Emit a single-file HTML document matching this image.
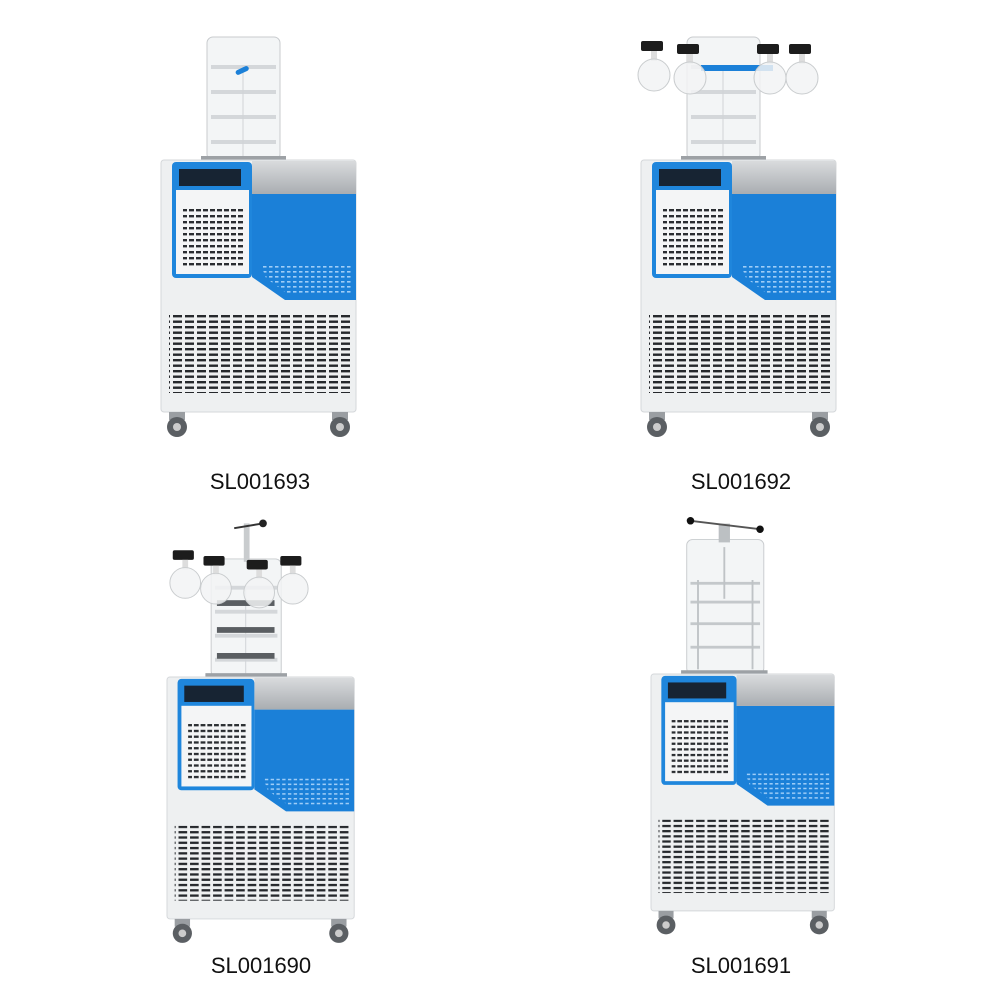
<!DOCTYPE html>
<html><head><meta charset="utf-8"><style>
html,body{margin:0;padding:0;background:#fff;width:1000px;height:1000px;overflow:hidden}
svg{display:block}
text{font-family:"Liberation Sans",Arial,sans-serif;font-size:22px;fill:#111;text-anchor:middle}
</style></head><body>
<svg width="1000" height="1000" viewBox="0 0 1000 1000" xmlns="http://www.w3.org/2000/svg">
<defs>
<pattern id="v1" width="7" height="6" patternUnits="userSpaceOnUse"><rect x="0" y="1" width="5" height="2.4" fill="#2a2d31"/></pattern>
<pattern id="v2" width="12" height="5.5" patternUnits="userSpaceOnUse"><rect x="0" y="1" width="9" height="2.4" fill="#25282c"/></pattern>
<pattern id="v3" width="6" height="5" patternUnits="userSpaceOnUse"><rect x="0" y="1" width="3.5" height="1.6" fill="#bfe0ff"/></pattern>
<linearGradient id="gt" x1="0" y1="0" x2="0" y2="1"><stop offset="0" stop-color="#d9dbdd"/><stop offset="1" stop-color="#a9adb1"/></linearGradient>
<g id="body">
 <rect x="0" y="0" width="195" height="252" rx="3" fill="#eef0f1" stroke="#d4d7da"/>
 <rect x="91" y="1" width="104" height="33" fill="url(#gt)"/>
 <polygon points="91,34 195,34 195,140 124,140 91,117" fill="#1b80d8"/>
 <polygon points="100,105 190,105 190,135 128,135 105,118" fill="url(#v3)" opacity="0.8"/>
 <rect x="11" y="2" width="80" height="116" rx="4" fill="#1f86dc"/>
 <rect x="15" y="30" width="73" height="84" fill="#f4f5f6"/>
 <rect x="18" y="9" width="62" height="17" fill="#172433"/>
 <rect x="22" y="46" width="60" height="62" fill="url(#v1)"/>
 <rect x="8" y="155" width="182" height="78" fill="url(#v2)"/>
 <rect x="8" y="252" width="16" height="8" fill="#9a9ea2"/>
 <rect x="171" y="252" width="16" height="8" fill="#9a9ea2"/>
 <circle cx="16" cy="267" r="10" fill="#5b5f63"/><circle cx="16" cy="267" r="4" fill="#ccc"/>
 <circle cx="179" cy="267" r="10" fill="#5b5f63"/><circle cx="179" cy="267" r="4" fill="#ccc"/>
</g>
<g id="cyl">
 <rect x="46" y="-123" width="73" height="123" rx="6" fill="#f3f5f6" stroke="#c8cbce"/>
 <g fill="#d4d7da"><rect x="50" y="-95" width="65" height="4"/><rect x="50" y="-70" width="65" height="4"/><rect x="50" y="-45" width="65" height="4"/><rect x="50" y="-20" width="65" height="4"/></g>
 <line x1="82" y1="-95" x2="82" y2="0" stroke="#d0d3d6"/>
 <rect x="40" y="-4" width="85" height="5" fill="#9da1a5"/>
</g>
<g id="flask">
 <rect x="-12" y="-4" width="22" height="10" rx="2" fill="#1c1c1c"/>
 <rect x="-2" y="6" width="6" height="10" fill="#ddd"/>
 <circle cx="1" cy="30" r="16" fill="#f2f3f4" fill-opacity="0.85" stroke="#c9ccce"/>
</g>
</defs>

<g transform="translate(161,160)">
 <use href="#cyl"/>
 <rect x="74" y="-92" width="14" height="5" rx="2.5" fill="#1b80d8" transform="rotate(-25 81 -90)"/>
 <use href="#body"/>
</g>
<text x="260" y="489">SL001693</text>

<g transform="translate(641,160)">
 <use href="#cyl"/>
 <rect x="60" y="-95" width="72" height="6" fill="#1b80d8"/>
 <use href="#flask" transform="translate(12,-115)"/>
 <use href="#flask" transform="translate(48,-112)"/>
 <use href="#flask" transform="translate(128,-112)"/>
 <use href="#flask" transform="translate(160,-112)"/>
 <use href="#body"/>
</g>
<text x="741" y="489">SL001692</text>

<g transform="translate(167,677) scale(0.96)">
 <use href="#cyl"/>
 <rect x="80" y="-160" width="6" height="40" fill="#c9ccce"/>
 <line x1="70" y1="-155" x2="100" y2="-160" stroke="#333" stroke-width="2"/>
 <circle cx="100" cy="-160" r="4" fill="#222"/>
 <g fill="#5a5e62"><rect x="52" y="-80" width="60" height="6"/><rect x="52" y="-52" width="60" height="6"/><rect x="52" y="-25" width="60" height="6"/></g>
 <use href="#flask" transform="translate(18,-128)"/>
 <use href="#flask" transform="translate(50,-122)"/>
 <use href="#flask" transform="translate(95,-118)"/>
 <use href="#flask" transform="translate(130,-122)"/>
 <use href="#body"/>
</g>
<text x="261" y="973">SL001690</text>

<g transform="translate(651,674) scale(0.94)">
 <rect x="38" y="-143" width="82" height="143" rx="6" fill="#f3f5f6" stroke="#c8cbce"/>
 <rect x="72" y="-160" width="12" height="20" fill="#bcc0c3"/>
 <line x1="42" y1="-163" x2="116" y2="-154" stroke="#555" stroke-width="2"/>
 <circle cx="42" cy="-163" r="4" fill="#111"/><circle cx="116" cy="-154" r="4" fill="#111"/>
 <g fill="#c4c8cb"><rect x="42" y="-98" width="74" height="3"/><rect x="42" y="-78" width="74" height="3"/><rect x="42" y="-55" width="74" height="3"/><rect x="42" y="-30" width="74" height="3"/></g>
 <g stroke="#bfc3c6" stroke-width="2"><line x1="50" y1="-100" x2="50" y2="-5"/><line x1="108" y1="-100" x2="108" y2="-5"/><line x1="78" y1="-135" x2="78" y2="-80"/></g>
 <rect x="32" y="-4" width="92" height="5" fill="#9da1a5"/>
 <use href="#body"/>
</g>
<text x="741" y="973">SL001691</text>
</svg>
</body></html>
